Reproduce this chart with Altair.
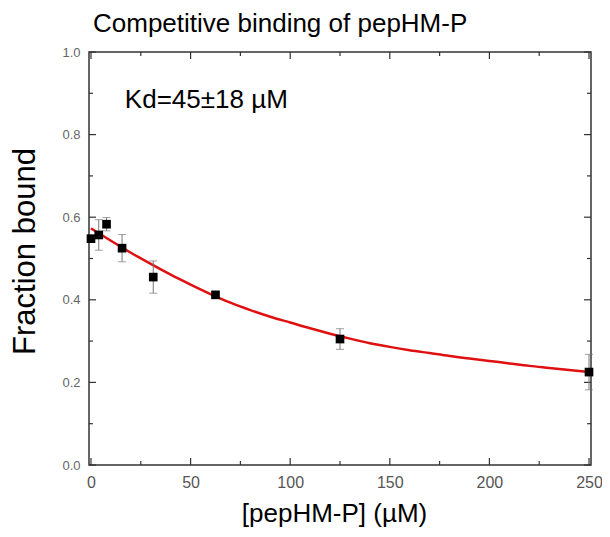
import altair as alt
import pandas as pd

# measured points
conc = [0, 3.9, 7.8, 15.6, 31.25, 62.5, 125, 250]
frac = [0.548, 0.557, 0.583, 0.525, 0.455, 0.412, 0.305, 0.225]
err = [0.008, 0.037, 0.016, 0.033, 0.039, 0.005, 0.025, 0.043]

# fitted curve
fit_x = [0, 10, 20, 30, 40, 50, 60, 70, 80, 90, 100, 110, 120, 130, 140, 150,
         160, 170, 180, 190, 200, 210, 220, 230, 240, 250]
fit_y = [0.573, 0.543, 0.514, 0.487, 0.461, 0.437, 0.414, 0.393, 0.375, 0.359,
         0.345, 0.331, 0.318, 0.306, 0.295, 0.286, 0.278, 0.271, 0.264, 0.258,
         0.252, 0.246, 0.240, 0.235, 0.230, 0.225]

x_major = [0, 50, 100, 150, 200, 250]
x_minor = [25, 75, 125, 175, 225]
y_major = [0.0, 0.2, 0.4, 0.6, 0.8, 1.0]
y_minor = [0.1, 0.3, 0.5, 0.7, 0.9]

title_text = "Competitive binding of pepHM-P"
kd_text = "Kd=45\u00b118 \u00b5M"
x_title = "[pepHM-P] (\u00b5M)"
y_title = "Fraction bound"

W, H = 502, 413
FONT = "Liberation Sans"

pts = pd.DataFrame({"c": conc, "f": frac,
                    "lo": [f - e for f, e in zip(frac, err)],
                    "hi": [f + e for f, e in zip(frac, err)]})
fit = pd.DataFrame({"c": fit_x, "f": fit_y})

xs = alt.Scale(domain=[-1, 251], nice=False, zero=False)
ys = alt.Scale(domain=[0, 1.0], nice=False)

base = alt.Chart(pts)

xaxis = alt.Axis(values=x_major, format="d", ticks=False, domain=False, grid=False,
                 labelFont=FONT, labelFontSize=16, labelColor="#555",
                 labelPadding=9, title=x_title, titleFont=FONT, titleFontSize=26,
                 titleFontWeight="normal", titleColor="black", titlePadding=10,
                 titleX=245)
yaxis = alt.Axis(values=y_major, format=".1f", ticks=False, domain=False, grid=False,
                 labelFont=FONT, labelFontSize=13, labelColor="#666",
                 labelPadding=9, title=y_title, titleFont=FONT, titleFontSize=31,
                 titleFontWeight="normal", titleColor="black", titlePadding=20,
                 titleY=199)

curve = alt.Chart(fit).mark_line(color="#e01010", strokeWidth=2.5, interpolate="monotone").encode(
    x=alt.X("c:Q", scale=xs, axis=xaxis),
    y=alt.Y("f:Q", scale=ys, axis=yaxis),
)

ebar = base.mark_rule(color="#777", strokeWidth=1).encode(
    x="c:Q", y="lo:Q", y2="hi:Q")
cap_lo = base.mark_tick(orient="horizontal", color="#777", size=8, thickness=1).encode(
    x="c:Q", y="lo:Q")
cap_hi = base.mark_tick(orient="horizontal", color="#777", size=8, thickness=1).encode(
    x="c:Q", y="hi:Q")
squares = base.mark_square(color="black", size=75, opacity=1).encode(x="c:Q", y="f:Q")

# inward ticks
def xt(vals, length):
    d = pd.DataFrame({"c": vals})
    b = alt.Chart(d).mark_rule(color="#333", strokeWidth=1.2).encode(
        x="c:Q", y=alt.value(H), y2=alt.value(H - length))
    t = alt.Chart(d).mark_rule(color="#333", strokeWidth=1.2).encode(
        x="c:Q", y=alt.value(0), y2=alt.value(length))
    return b + t

def yt(vals, length):
    d = pd.DataFrame({"f": vals})
    l = alt.Chart(d).mark_rule(color="#333", strokeWidth=1.2).encode(
        y="f:Q", x=alt.value(0), x2=alt.value(length))
    r = alt.Chart(d).mark_rule(color="#333", strokeWidth=1.2).encode(
        y="f:Q", x=alt.value(W), x2=alt.value(W - length))
    return l + r

kd = alt.Chart(pd.DataFrame({"c": [17], "f": [0.864], "t": [kd_text]})).mark_text(
    align="left", baseline="alphabetic", font=FONT, fontSize=26, color="black").encode(
    x="c:Q", y="f:Q", text="t:N")

ttl = alt.Chart(pd.DataFrame({"c": [1], "f": [1.048], "t": [title_text]})).mark_text(
    align="left", baseline="alphabetic", font=FONT, fontSize=26, color="black").encode(
    x="c:Q", y="f:Q", text="t:N")

chart = alt.layer(
    curve, xt(x_major, 7), xt(x_minor, 4), yt(y_major, 7), yt(y_minor, 4),
    ebar, cap_lo, cap_hi, squares, kd, ttl
).properties(
    width=W, height=H,
    autosize=alt.AutoSizeParams(type="none"),
    padding={"left": 81, "top": 44, "right": 11, "bottom": 64},
).configure_view(stroke="#333", strokeWidth=1.5)

chart.save("out.html", embed_options={"renderer": "svg", "actions": False})
